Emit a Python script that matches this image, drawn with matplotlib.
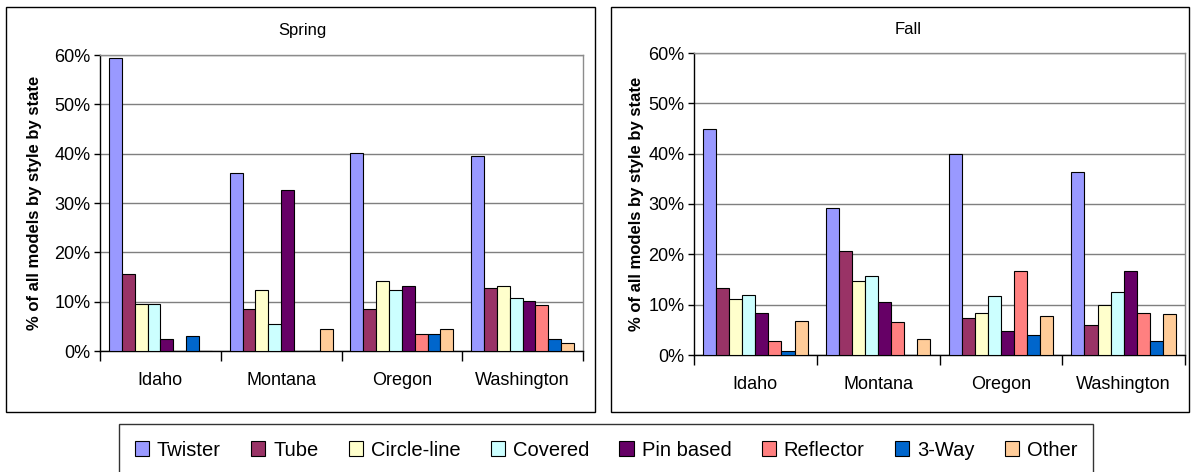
import matplotlib
matplotlib.use("Agg")
import matplotlib.pyplot as plt
import numpy as np
from matplotlib.patches import Rectangle
from matplotlib.ticker import FixedLocator

plt.rcParams['font.family'] = ['Liberation Sans Narrow', 'Liberation Sans', 'DejaVu Sans']

states = ["Idaho", "Montana", "Oregon", "Washington"]
styles = ["Twister", "Tube", "Circle-line", "Covered", "Pin based", "Reflector", "3-Way", "Other"]
colors = ["#9999FF", "#993366", "#FFFFCC", "#CCFFFF", "#660066", "#FF8080", "#0066CC", "#FFCC99"]
y_ticks = [0, 10, 20, 30, 40, 50, 60]

# percent of all models, one list per style, values by state
spring = {
    "Twister":     [59.3, 36.0, 40.1, 39.5],
    "Tube":        [15.6, 8.5, 8.5, 12.7],
    "Circle-line": [9.5, 12.4, 14.2, 13.1],
    "Covered":     [9.5, 5.4, 12.4, 10.8],
    "Pin based":   [2.4, 32.7, 13.1, 10.2],
    "Reflector":   [0.0, 0.0, 3.5, 9.3],
    "3-Way":       [3.1, 0.0, 3.5, 2.5],
    "Other":       [0.0, 4.4, 4.4, 1.6],
}
fall = {
    "Twister":     [44.9, 29.2, 40.0, 36.3],
    "Tube":        [13.3, 20.6, 7.4, 5.9],
    "Circle-line": [11.1, 14.7, 8.4, 9.9],
    "Covered":     [12.0, 15.7, 11.8, 12.6],
    "Pin based":   [8.4, 10.5, 4.7, 16.6],
    "Reflector":   [2.8, 6.5, 16.6, 8.4],
    "3-Way":       [0.7, 0.0, 4.0, 2.8],
    "Other":       [6.8, 3.1, 7.7, 8.1],
}

W, H = 1191, 472
fig = plt.figure(figsize=(W / 100, H / 100), dpi=100)


def px_rect(x0, y0, x1, y1):
    return [x0 / W, 1 - y1 / H, (x1 - x0) / W, (y1 - y0) / H]


def panel_box(x0, y0, x1, y1):
    fig.patches.append(Rectangle((x0 / W, 1 - y1 / H), (x1 - x0) / W, (y1 - y0) / H,
                                 transform=fig.transFigure, fill=False,
                                 edgecolor="black", linewidth=1.0))


def draw_panel(rect, data, title, title_xy, ylabel_x):
    ax = fig.add_axes(px_rect(*rect))
    n = len(styles)
    gap = 1.4
    bw = 1.0 / (n + gap)
    x = np.arange(len(states))
    for i, s in enumerate(styles):
        pos = x + gap * bw / 2 + (i + 0.5) * bw
        ax.bar(pos, data[s], width=bw, color=colors[i], edgecolor="black",
               linewidth=0.8, zorder=3)
    ax.set_xlim(0, len(states))
    ax.set_ylim(0, 60)
    ax.yaxis.set_major_locator(FixedLocator(y_ticks))
    ax.set_yticklabels([f"{t}%" for t in y_ticks], fontsize=13)
    ax.grid(axis="y", color="#7f7f7f", linewidth=1.0, zorder=0)
    ax.xaxis.set_major_locator(FixedLocator(np.arange(len(states) + 1)))
    ax.xaxis.set_minor_locator(FixedLocator(x + 0.5))
    ax.set_xticklabels([""] * (len(states) + 1))
    ax.set_xticklabels(states, minor=True, fontsize=13)
    ax.tick_params(axis="x", which="major", length=7, width=1, direction="out")
    ax.tick_params(axis="x", which="minor", length=0, pad=15)
    ax.tick_params(axis="y", length=4, width=1, direction="out", pad=3)
    for side in ("top", "right"):
        ax.spines[side].set_color("#8c8c8c")
        ax.spines[side].set_linewidth(1.0)
    for side in ("left", "bottom"):
        ax.spines[side].set_color("black")
        ax.spines[side].set_linewidth(1.0)
    fig.text(title_xy[0] / W, 1 - title_xy[1] / H, title, ha="center", va="center", fontsize=12)
    fig.text(ylabel_x / W, 1 - (rect[1] + rect[3]) / 2 / H, "% of all models by style by state",
             rotation=90, ha="center", va="center", fontsize=12, fontweight="bold",
             family=['Liberation Sans', 'DejaVu Sans'])
    return ax


panel_box(6, 7, 595, 412)
panel_box(611, 7, 1189, 412)

draw_panel((100, 55, 583, 351), spring, "Spring", (302, 31), 35)
draw_panel((694, 53, 1185, 355), fall, "Fall", (908, 30), 636)

# legend across the bottom
handles = [Rectangle((0, 0), 1, 1, facecolor=c, edgecolor="black", linewidth=0.8) for c in colors]
leg = fig.legend(handles, styles, loc="center", bbox_to_anchor=(606 / W, 1 - 450 / H),
                 ncol=len(styles), frameon=True, fancybox=False, fontsize=14.5,
                 handlelength=0.7, handleheight=0.7, handletextpad=0.4, columnspacing=1.5,
                 borderpad=0.8)
leg.get_frame().set_edgecolor("black")
leg.get_frame().set_linewidth(1.0)

fig.savefig("out.png", dpi=100)
